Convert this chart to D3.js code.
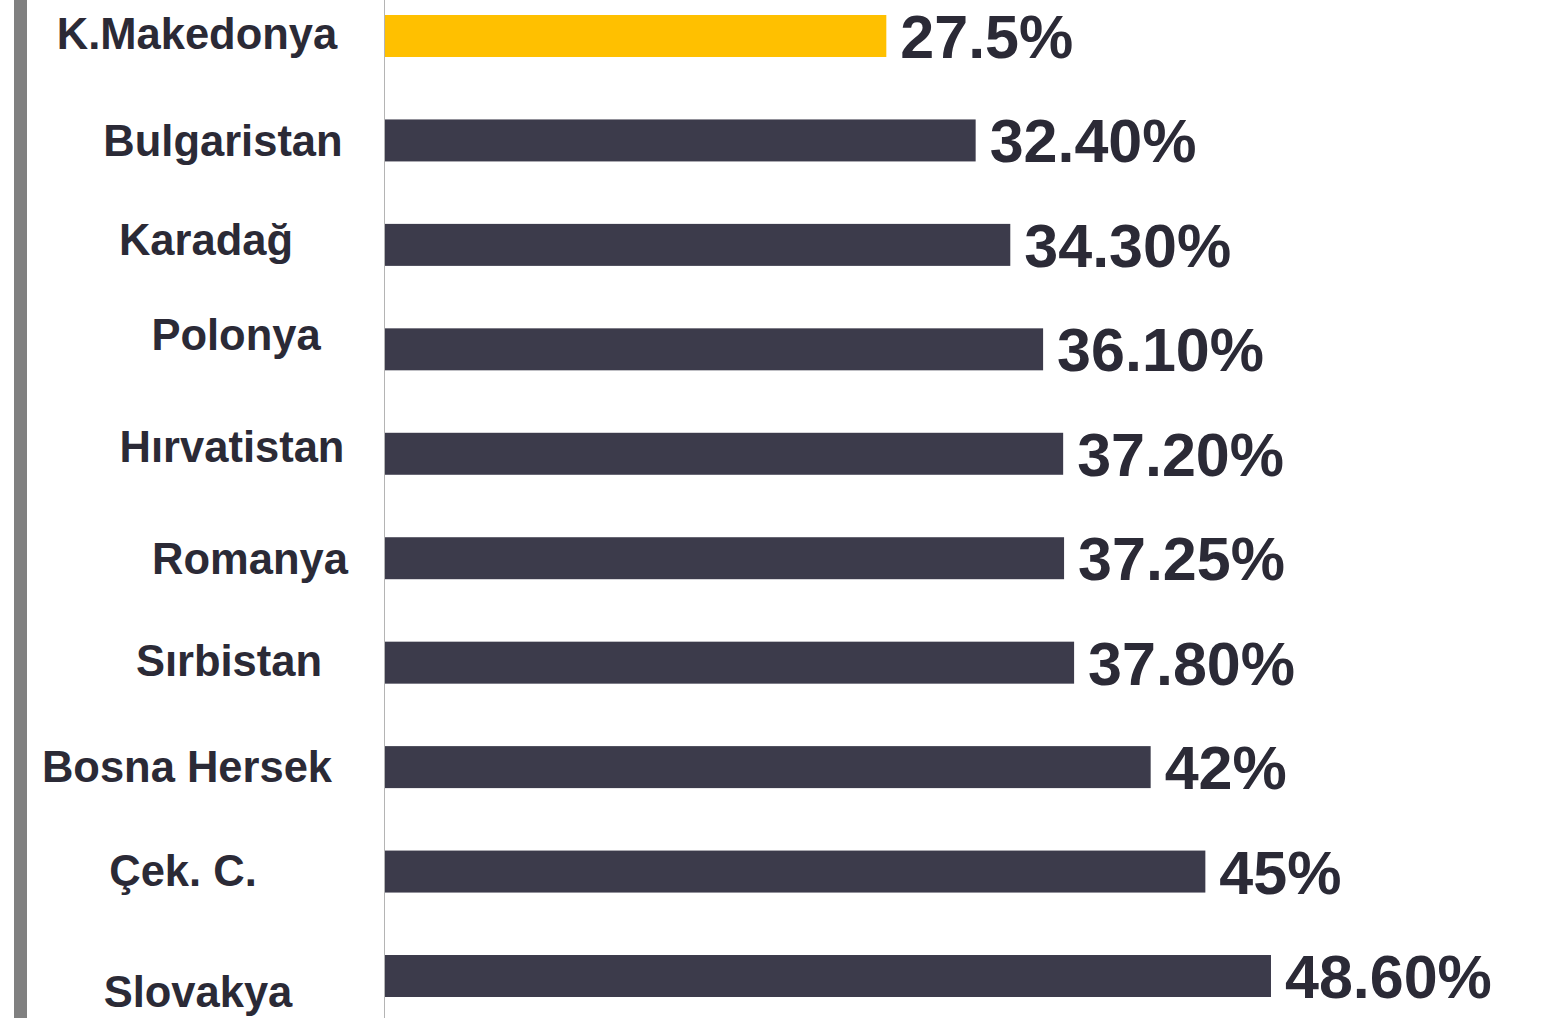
<!DOCTYPE html>
<html>
<head>
<meta charset="utf-8">
<script src="https://cdn.jsdelivr.net/npm/d3@7"></script>
<style>
  html, body { margin: 0; padding: 0; background: #fff; }
  svg { display: block; font-family: "Liberation Sans", Arial, sans-serif; font-weight: bold; }
</style>
</head>
<body>
<div id="wrap"></div>
<script>
// veriler
const countries = ["K.Makedonya", "Bulgaristan", "Karadağ", "Polonya", "Hırvatistan",
  "Romanya", "Sırbistan", "Bosna Hersek", "Çek. C.", "Slovakya"];
const values = [27.5, 32.4, 34.3, 36.1, 37.2, 37.25, 37.8, 42, 45, 48.6];
const valueLabels = ["27.5%", "32.40%", "34.30%", "36.10%", "37.20%",
  "37.25%", "37.80%", "42%", "45%", "48.60%"];
const highlight = "K.Makedonya";

// etiketlerin elle kaydirilmasi (orijinal slayttaki gibi duzensiz)
const labelShift = [[-18, -2], [8, 1], [-9, -5], [21, -14], [17, -7],
  [35, 1], [14, -2], [-28, 0], [-32, -1], [-17, 16]];

const width = 1547;
const height = 1018;
const labelX = 215;
const barColor = "#3c3b4b";
const hlColor = "#ffc000";
const textColor = "#2b2a36";

let svg = d3.select("#wrap")
  .append("svg")
  .attr("width", width)
  .attr("height", height);

// x ekseni olcegi
let xScale = d3.scaleLinear()
  .domain([0, 50])
  .range([385, 1296.5]);

// y bant olcegi
let yScale = d3.scaleBand()
  .domain(countries)
  .range([15, 997])
  .paddingInner(0.598)
  .paddingOuter(0);

// soldaki gri serit
svg.append("rect")
  .attr("x", 14)
  .attr("y", 0)
  .attr("width", 13)
  .attr("height", height)
  .attr("fill", "#808080");

// dikey eksen cizgisi
svg.append("line")
  .attr("x1", 384.5)
  .attr("x2", 384.5)
  .attr("y1", 0)
  .attr("y2", height)
  .attr("stroke", "#b4b4b4")
  .attr("stroke-width", 1);

const rows = countries.map((c, i) => ({
  name: c, value: values[i], label: valueLabels[i], shift: labelShift[i]
}));

// cubuklar
svg.selectAll("rect.bar")
  .data(rows)
  .enter()
  .append("rect")
  .attr("class", "bar")
  .attr("x", xScale(0))
  .attr("y", d => yScale(d.name))
  .attr("width", d => xScale(d.value) - xScale(0))
  .attr("height", yScale.bandwidth())
  .attr("fill", d => d.name === highlight ? hlColor : barColor);

// deger etiketleri
svg.selectAll("text.value")
  .data(rows)
  .enter()
  .append("text")
  .attr("class", "value")
  .attr("x", d => xScale(d.value) + 14)
  .attr("y", d => yScale(d.name) + yScale.bandwidth() + 1)
  .attr("font-size", 61)
  .attr("fill", textColor)
  .text(d => d.label);

// ulke etiketleri
svg.selectAll("text.name")
  .data(rows)
  .enter()
  .append("text")
  .attr("class", "name")
  .attr("x", d => labelX + d.shift[0])
  .attr("y", d => yScale(d.name) + yScale.bandwidth() / 2 + 15 + d.shift[1])
  .attr("text-anchor", "middle")
  .attr("font-size", 43.5)
  .attr("fill", textColor)
  .text(d => d.name);
</script>
</body>
</html>
